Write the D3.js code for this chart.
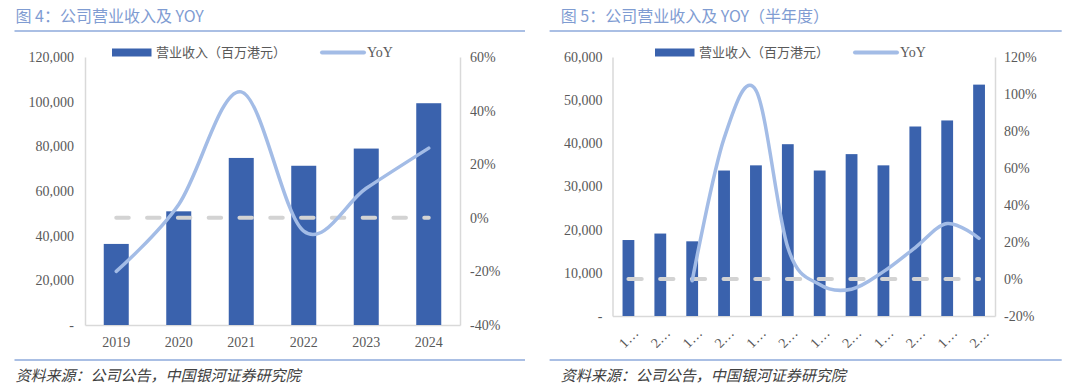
<!DOCTYPE html>
<html><head><meta charset="utf-8">
<script src="https://cdn.jsdelivr.net/npm/d3@7"></script>
<style>html,body{margin:0;padding:0;background:#fff;} svg{display:block}</style>
</head><body><svg id="c" width="1080" height="391"></svg>
<script>
// ---------- data ----------
const annualCategories = ["2019", "2020", "2021", "2022", "2023", "2024"];
const annualRevenue = [36300, 50900, 74800, 71300, 79000, 99300];
const annualYoY = [-20, 5, 47, -5, 11, 26];
const annualRevenueTicks = [0, 20000, 40000, 60000, 80000, 100000, 120000];
const annualYoYTicks = [-40, -20, 0, 20, 40, 60];

const halfCategories = ["1H19", "2H19", "1H20", "2H20", "1H21", "2H21", "1H22", "2H22", "1H23", "2H23", "1H24", "2H24"];
const halfRevenue = [17600, 19100, 17300, 33700, 34900, 39800, 33700, 37500, 34900, 43900, 45300, 53600];
const halfYoY = [null, null, -1, 76, 102, 17, -3, -5.5, 4, 17, 30, 22];
const halfRevenueTicks = [0, 10000, 20000, 30000, 40000, 50000, 60000];
const halfYoYTicks = [-20, 0, 20, 40, 60, 80, 100, 120];

const chartTitles = ["图 4：公司营业收入及 YOY", "图 5：公司营业收入及 YOY（半年度）"];
const legendLabels = ["营业收入（百万港元）", "YoY"];
const sourceText = "资料来源：公司公告，中国银河证券研究院";

// ---------- style ----------
const BAR = "#3a62ad", LINE = "#a3bce6", DASH = "#d3d3d3", AXIS = "#d9d9d9",
      TXT = "#595959", TITLE = "#7f9cd2", RULE = "#8eaadb";
const SERIF = "'Liberation Serif','Noto Sans CJK SC',serif";
const CJK = "'Noto Sans CJK SC','Liberation Serif',sans-serif";

const svg = d3.select("#c");

function drawPanel(o) {
  const g = svg.append("g");
  // title
  g.append("text").attr("x", o.titleX).attr("y", 22).attr("fill", TITLE)
    .attr("font-family", CJK).attr("font-size", 16).text(o.title);
  g.append("line").attr("x1", o.ruleX0).attr("x2", o.ruleX1).attr("y1", 31).attr("y2", 31)
    .attr("stroke", RULE).attr("stroke-width", 1.5);
  g.append("line").attr("x1", o.ruleX0).attr("x2", o.ruleX1).attr("y1", 360).attr("y2", 360)
    .attr("stroke", RULE).attr("stroke-width", 1.5);
  g.append("text").attr("x", o.titleX).attr("y", 381).attr("fill", "#404040")
    .attr("font-family", CJK).attr("font-size", 15).attr("font-style", "italic").text(sourceText);

  const x = d3.scaleBand().domain(o.cats).range([o.x0, o.x1])
    .paddingInner(o.pad).paddingOuter(o.pad / 2);
  const yL = d3.scaleLinear().domain(d3.extent(o.revTicks)).range([o.yBot, o.yTop]);
  const yR = d3.scaleLinear().domain(d3.extent(o.yoyTicks)).range([o.yBot, o.yTop]);
  const cx = d => x(d) + x.bandwidth() / 2;

  // axes
  const axL = g.append("g").attr("transform", `translate(${o.x0},0)`)
    .call(d3.axisLeft(yL).tickValues(o.revTicks).tickSize(0).tickSizeOuter(0).tickPadding(o.padL)
      .tickFormat(d => d === 0 ? "-" : d3.format(",")(d)));
  const axR = g.append("g").attr("transform", `translate(${o.x1},0)`)
    .call(d3.axisRight(yR).tickValues(o.yoyTicks).tickSize(0).tickSizeOuter(0).tickPadding(o.padR)
      .tickFormat(d => d + "%"));
  const axB = g.append("g").attr("transform", `translate(0,${o.yBot})`)
    .call(d3.axisBottom(x).tickSize(0).tickSizeOuter(0).tickPadding(12)
      .tickFormat(o.fmtX));
  [axL, axR, axB].forEach(a => {
    a.select(".domain").attr("stroke", AXIS).attr("stroke-width", 1.5);
    a.selectAll("text").attr("fill", TXT).attr("font-family", SERIF).attr("font-size", 14);
  });
  if (o.rotate) {
    axB.selectAll("text").attr("text-anchor", "end").attr("dy", "0.35em")
      .attr("transform", "translate(-1,6) rotate(-45)");
  }

  // bars
  g.append("g").selectAll("rect").data(o.cats).join("rect")
    .attr("x", d => x(d)).attr("width", x.bandwidth())
    .attr("y", (d, i) => yL(o.rev[i])).attr("height", (d, i) => o.yBot - yL(o.rev[i]))
    .attr("fill", BAR);

  // zero dashed line
  g.append("path")
    .attr("d", d3.line().x(d => cx(d)).y(() => yR(0))(o.cats))
    .attr("fill", "none").attr("stroke", DASH).attr("stroke-width", 4)
    .attr("stroke-linecap", "round").attr("stroke-dasharray", o.dash);

  // yoy line
  const pts = o.cats.map((c, i) => [c, o.yoy[i]]).filter(p => p[1] !== null);
  g.append("path")
    .attr("d", d3.line().curve(d3.curveCatmullRom.alpha(0)).x(p => cx(p[0])).y(p => yR(p[1]))(pts))
    .attr("fill", "none").attr("stroke", LINE).attr("stroke-width", 3.5)
    .attr("stroke-linecap", "round");

  // legend
  const lg = g.append("g");
  lg.append("rect").attr("x", o.lgBar).attr("y", 48.5).attr("width", 39.5).attr("height", 8).attr("fill", BAR);
  lg.append("text").attr("x", o.lgBar + 44).attr("y", 57).attr("fill", TXT)
    .attr("font-family", CJK).attr("font-size", 13).text(legendLabels[0]);
  lg.append("line").attr("x1", o.lgLine).attr("x2", o.lgLine + 42).attr("y1", 52.5).attr("y2", 52.5)
    .attr("stroke", LINE).attr("stroke-width", 4).attr("stroke-linecap", "round");
  lg.append("text").attr("x", o.lgLine + 45).attr("y", 57).attr("fill", TXT)
    .attr("font-family", SERIF).attr("font-size", 14).text(legendLabels[1]);
}

drawPanel({
  title: chartTitles[0], titleX: 15.5, ruleX0: 14.5, ruleX1: 525,
  cats: annualCategories, rev: annualRevenue, yoy: annualYoY,
  revTicks: annualRevenueTicks, yoyTicks: annualYoYTicks,
  x0: 85, x1: 460, yTop: 57, yBot: 325, pad: 0.6, padL: 11, padR: 10,
  fmtX: d => d, rotate: false, dash: "12.5,18.3", lgBar: 112, lgLine: 322
});
drawPanel({
  title: chartTitles[1], titleX: 560.7, ruleX0: 549.6, ruleX1: 1061.7,
  cats: halfCategories, rev: halfRevenue, yoy: halfYoY,
  revTicks: halfRevenueTicks, yoyTicks: halfYoYTicks,
  x0: 612.5, x1: 995, yTop: 57, yBot: 316, pad: 0.63, padL: 10, padR: 9,
  fmtX: d => d.charAt(0) + "…", rotate: true, dash: "13.3,18.4", lgBar: 655, lgLine: 855
});
</script></body></html>
